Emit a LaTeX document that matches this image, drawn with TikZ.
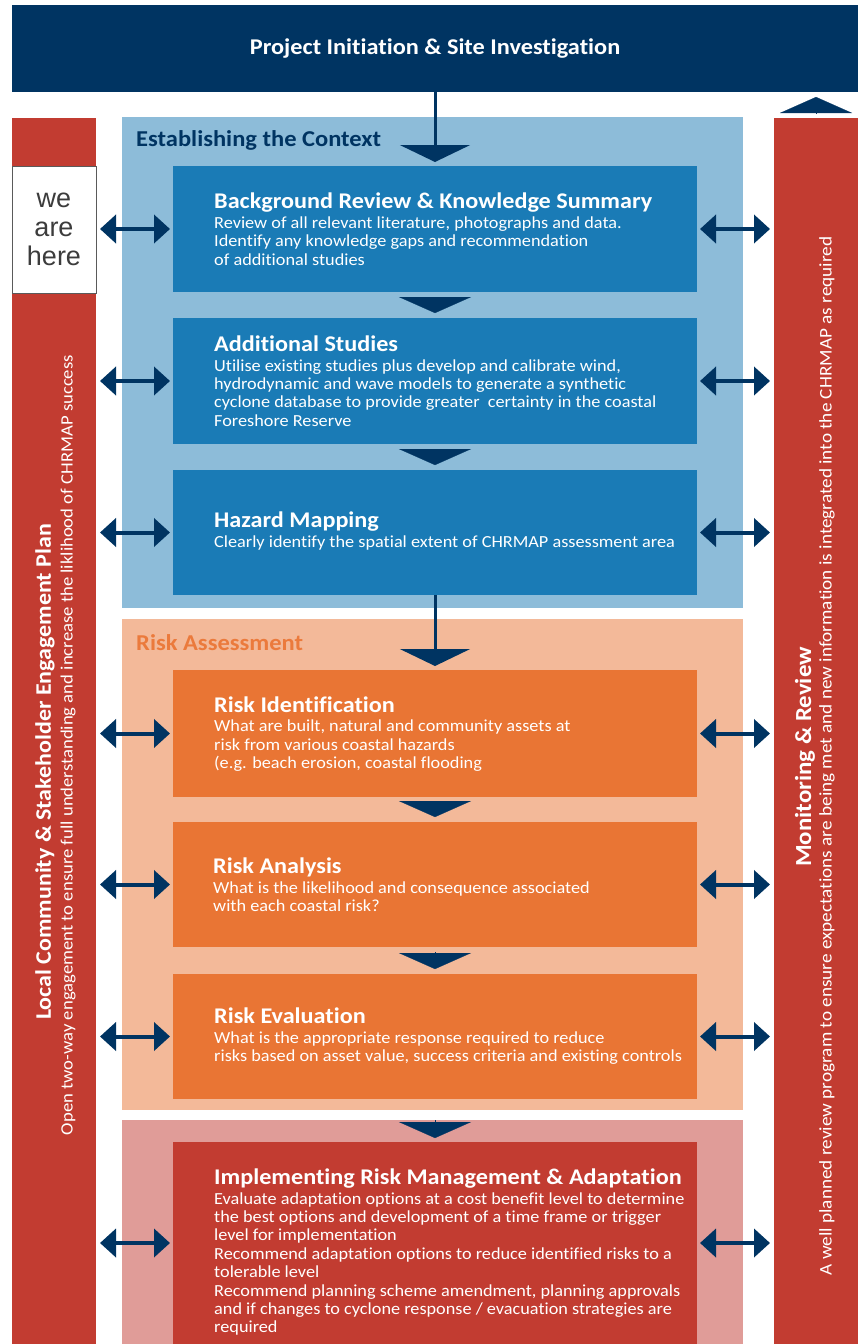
\documentclass[tikz,border=0pt]{standalone}
\usepackage{fontspec}
\setmainfont{Carlito}[Ligatures=NoCommon]
\newfontfamily\wf{Carlito}[FakeStretch=1.08, Ligatures=NoCommon]
\newfontfamily\arialf{Liberation Sans}
\usetikzlibrary{arrows.meta,calc}
\definecolor{navy}{RGB}{0,52,98}
\definecolor{secblue}{RGB}{141,188,217}
\definecolor{boxblue}{RGB}{26,123,182}
\definecolor{secorange}{RGB}{243,185,153}
\definecolor{boxorange}{RGB}{233,117,52}
\definecolor{titleorange}{RGB}{235,122,60}
\definecolor{secred}{RGB}{224,156,152}
\definecolor{boxred}{RGB}{194,60,49}
\definecolor{herebd}{RGB}{90,90,90}
\definecolor{heretx}{RGB}{60,60,60}
\begin{document}
\begin{tikzpicture}[x=1pt,y=-1pt,
  rect/.style={draw=none, inner sep=0pt, outer sep=0pt, anchor=north west},
  sectitle/.style={anchor=base west, inner sep=0pt, font=\wf\fontsize{22.7}{26}\selectfont\bfseries},
  boxtext/.style={anchor=west, inner sep=0pt, align=left, text=white, font=\wf\fontsize{16.9}{18.4}\selectfont},
  dbl/.style={draw=navy, line width=4pt, {Triangle[width=28pt,length=16pt]}-{Triangle[width=28pt,length=16pt]}},
  vline/.style={draw=navy, line width=3pt, -{Triangle[width=70pt,length=17pt]}},
  tri/.style={draw=navy, line width=0.1pt, -{Triangle[width=72pt,length=16pt]}},
  bartitle/.style={rotate=90, text=white, inner sep=0pt},
  barsub/.style={rotate=90, text=white, inner sep=0pt}
]
\useasboundingbox (0,0) rectangle (863,1344);
\fill[white] (0,0) rectangle (863,1344);

% header
\node[rect, fill=navy, minimum width=846pt, minimum height=87pt] (header) at (12,5) {};
\node[text=white, font=\wf\fontsize{22.5}{26}\selectfont\bfseries] (htext) at (header.center) {Project Initiation \& Site Investigation};

% side bars
\node[rect, fill=boxred, minimum width=84pt, minimum height=1226pt] (lbar) at (12,118) {};
\node[rect, fill=boxred, minimum width=84pt, minimum height=1226pt] (rbar) at (774,118) {};
\node[rect, fill=white, draw=herebd, line width=1pt, minimum width=84pt, minimum height=127pt] (here) at (12,166) {};
\node[text=heretx, align=center, font=\arialf\fontsize{27}{29}\selectfont] (heretext) at (here.center) {we\\are\\here};

\node[bartitle, font=\wf\fontsize{22.2}{26}\selectfont\bfseries] (ltitle) at (45,772) {Local Community \& Stakeholder Engagement Plan};
\node[barsub, font=\wf\fontsize{17.3}{20}\selectfont] (lsub) at (68,745) {Open two-way engagement to ensure full understanding and increase the liklihood of CHRMAP success};
\node[bartitle, font=\wf\fontsize{23}{26}\selectfont\bfseries] (rtitle) at (805,757) {Monitoring \& Review};
\node[barsub, font=\wf\fontsize{17.8}{20}\selectfont] (rsub) at (827,756) {A well planned review program to ensure expectations are being met and new information is integrated into the CHRMAP as required};

% sections
\node[rect, fill=secblue, minimum width=621pt, minimum height=491pt] (sec1) at (122,117) {};
\node[rect, fill=secorange, minimum width=621pt, minimum height=491pt] (sec2) at (122,619) {};
\node[rect, fill=secred, minimum width=621pt, minimum height=224pt] (sec3) at (122,1120) {};
\node[sectitle, text=navy] (s1t) at (136,146) {Establishing the Context};
\node[sectitle, text=titleorange] (s2t) at (136,650) {Risk Assessment};

% boxes
\node[rect, fill=boxblue, minimum width=524pt, minimum height=126pt] (b1) at (173,166) {};
\node[rect, fill=boxblue, minimum width=524pt, minimum height=126pt] (b2) at (173,318) {};
\node[rect, fill=boxblue, minimum width=524pt, minimum height=125pt] (b3) at (173,470) {};
\node[rect, fill=boxorange, minimum width=524pt, minimum height=127pt] (ri) at (173,670) {};
\node[rect, fill=boxorange, minimum width=524pt, minimum height=125pt] (ra) at (173,822) {};
\node[rect, fill=boxorange, minimum width=524pt, minimum height=125pt] (re) at (173,974) {};
\node[rect, fill=boxred, minimum width=524pt, minimum height=202pt] (im) at (173,1142) {};

\newcommand{\bt}[1]{{\fontsize{22.4}{24}\selectfont\bfseries #1}\\[1.5pt]}
\node[boxtext] (t1) at (214,229) {\bt{Background Review \& Knowledge Summary}Review of all relevant literature, photographs and data.\\Identify any knowledge gaps and recommendation\\of additional studies};
\node[boxtext] (t2) at (214,381) {\bt{Additional Studies}Utilise existing studies plus develop and calibrate wind,\\hydrodynamic and wave models to generate a synthetic\\cyclone database to provide greater\ \ certainty in the coastal\\Foreshore Reserve};
\node[boxtext] (t3) at (214,531) {\bt{Hazard Mapping}Clearly identify the spatial extent of CHRMAP assessment area};
\node[boxtext] (t4) at (214,734) {\bt{Risk Identification}What are built, natural and community assets at\\risk from various coastal hazards\\(e.g. beach erosion, coastal flooding};
\node[boxtext] (t5) at (213,885) {\bt{Risk Analysis}What is the likelihood and consequence associated\\with each coastal risk?};
\node[boxtext] (t6) at (214,1036) {\bt{Risk Evaluation}What is the appropriate response required to reduce\\risks based on asset value, success criteria and existing controls};
\node[boxtext] (t7) at (214,1252) {\bt{Implementing Risk Management \& Adaptation}Evaluate adaptation options at a cost benefit level to determine\\the best options and development of a time frame or trigger\\level for implementation\\Recommend adaptation options to reduce identified risks to a\\tolerable level\\Recommend planning scheme amendment, planning approvals\\and if changes to cyclone response / evacuation strategies are\\required};

% vertical flow
\draw[vline] (header.south) -- ([yshift=4pt]b1.north);
\draw[tri] ([yshift=-5pt]b1.south) -- ([yshift=5pt]b2.north);
\draw[tri] ([yshift=-5pt]b2.south) -- ([yshift=5pt]b3.north);
\draw[vline] (b3.south) -- ([yshift=4pt]ri.north);
\draw[tri] ([yshift=-4pt]ri.south) -- ([yshift=5pt]ra.north);
\draw[tri] ([yshift=-5pt]ra.south) -- ([yshift=5pt]re.north);
\draw[tri] ($(re.south)+(0,21)$) -- ([yshift=4pt]im.north);
\draw[tri] ([yshift=5pt]rbar.north) -- ([yshift=-5pt]header.south -| rbar.north);

% side double arrows
\foreach \b in {b1,b2,b3,ri,ra,re,im}{
  \draw[dbl] ($(lbar.east |- \b.west)+(4,0)$) -- ($(\b.west)+(-3,0)$);
  \draw[dbl] ($(\b.east)+(3,0)$) -- ($(rbar.west |- \b.east)+(-4,0)$);
}
\end{tikzpicture}
\end{document}
